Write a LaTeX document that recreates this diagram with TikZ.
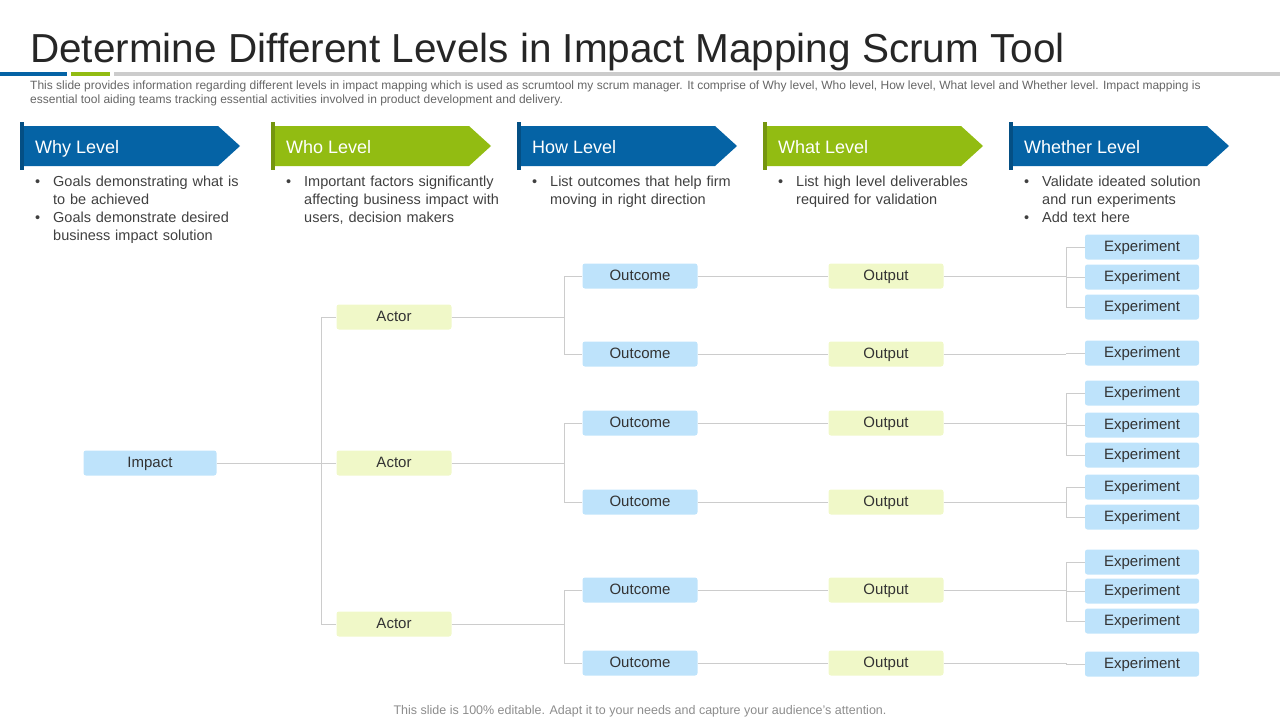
\documentclass[tikz,border=0pt]{standalone}
\usepackage{fontspec}
\setmainfont{Liberation Sans}
\begin{document}
\begin{tikzpicture}[x=1pt,y=-1pt,
  ln/.style={draw=black!20,line width=0.8pt},
  bx/.style={rounded corners=2.5pt,minimum height=25pt,inner sep=0pt,text height=11pt,text depth=3pt,font=\fontsize{15}{17}\selectfont,text=black!80},
  blu/.style={bx,fill={rgb,255:red,190;green,227;blue,251},minimum width=115pt},
  yel/.style={bx,fill={rgb,255:red,240;green,248;blue,200},minimum width=115pt},
  bul/.style={anchor=north west,align=left,text width=230pt,font=\fontsize{14.5}{18}\selectfont,text=black!75,inner sep=0pt}]
\definecolor{cb}{RGB}{5,99,165}
\definecolor{cg}{RGB}{146,188,18}
\newcommand{\bl}[1]{\begin{list}{\textbullet}{\leftmargin=20pt\labelsep=13pt\itemsep=0pt\topsep=0pt\parsep=0pt}#1\end{list}}
\useasboundingbox (0,0) rectangle (1280,720);
\node[anchor=base west,inner sep=0pt,font=\fontsize{40.5}{44}\selectfont,text=black!85] (title) at (30,62) {Determine Different Levels in Impact Mapping Scrum Tool};
\fill[cb] (0,72) rectangle (67,76);
\fill[cg] (71,72) rectangle (110,76);
\fill[black!20] (114,72) rectangle (1280,76);
\node[anchor=north west,inner sep=0pt,align=left,font=\fontsize{12}{14}\selectfont,text=black!60] (sub) at (30,80.5) {This slide provides information regarding different levels in impact mapping which is used as scrumtool my scrum manager. It comprise of Why level, Who level, How level, What level and Whether level. Impact mapping is\\essential tool aiding teams tracking essential activities involved in product development and delivery.};
\foreach \x/\c/\t/\n in {20/cb/Why Level/h1,271/cg/Who Level/h2,517/cb/How Level/h3,763/cg/What Level/h4,1009/cb/Whether Level/h5}{
  \fill[\c] (\x+4,126) -- (\x+198,126) -- (\x+220,146) -- (\x+198,166) -- (\x+4,166) -- cycle;
  \fill[\c!80!black] (\x,122) rectangle (\x+4,170);
  \node[anchor=base west,text=white,font=\fontsize{18}{20}\selectfont,inner sep=0pt] (\n) at (\x+15,153) {\t};
}
\node[bul] (b1) at (33,168) {\bl{\item Goals demonstrating what is\\to be achieved \item Goals demonstrate desired\\business impact solution}};
\node[bul] (b2) at (284,168) {\bl{\item Important factors significantly\\affecting business impact with\\users, decision makers}};
\node[bul] (b3) at (530,168) {\bl{\item List outcomes that help firm\\moving in right direction}};
\node[bul] (b4) at (776,168) {\bl{\item List high level deliverables\\required for validation}};
\node[bul] (b5) at (1022,168) {\bl{\item Validate ideated solution\\and run experiments \item Add text here}};
\node[blu,minimum width=133pt] (imp) at (150,463) {Impact};
\foreach \i/\y in {1/317,2/463,3/624}{\node[yel] (a\i) at (394,\y) {Actor};}
\foreach \i/\y in {1/276,2/354,3/423,4/502,5/590,6/663}{
  \node[blu] (o\i) at (640,\y) {Outcome};
  \node[yel] (p\i) at (886,\y) {Output};
  \draw[ln] (o\i) -- (p\i);
}
\foreach \i/\y in {1/247,2/277,3/307,4/353,5/393,6/425,7/455,8/487,9/517,10/562,11/591,12/621,13/664}{
  \node[blu,minimum width=114pt] (e\i) at (1142,\y) {Experiment};
}
\coordinate (c0) at (321,463);
\draw[ln] (imp) -- (c0);
\foreach \i in {1,2,3}{\draw[ln] (c0) |- (a\i);}
\foreach \a/\o/\ob in {1/1/2,2/3/4,3/5/6}{
  \coordinate (ca\a) at (564,0 |- a\a);
  \draw[ln] (a\a) -- (ca\a);
  \draw[ln] (ca\a) |- (o\o);
  \draw[ln] (ca\a) |- (o\ob);
}
\foreach \p/\es in {1/{1,2,3},2/{4},3/{5,6,7},4/{8,9},5/{10,11,12},6/{13}}{
  \coordinate (cp\p) at (1066,0 |- p\p);
  \draw[ln] (p\p) -- (cp\p);
  \foreach \e in \es {\draw[ln] (cp\p) |- (e\e);}
}
\node[font=\fontsize{12.5}{14}\selectfont,text=black!45] (foot) at (640,711) {This slide is 100\% editable. Adapt it to your needs and capture your audience’s attention.};
\end{tikzpicture}
\end{document}
